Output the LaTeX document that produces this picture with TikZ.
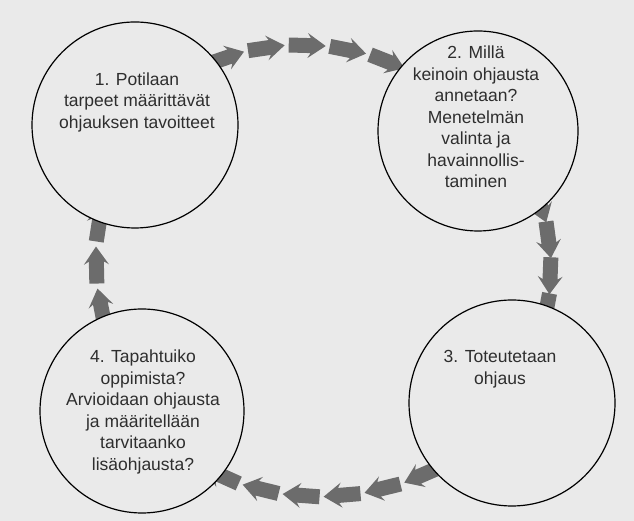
\documentclass[tikz,border=0pt]{standalone}
\usepackage{fontspec}
\setmainfont{Liberation Sans}
\usetikzlibrary{decorations.markings, backgrounds}

\definecolor{pagegray}{RGB}{234,234,234}
\definecolor{arrowgray}{RGB}{108,108,108}
\newcommand{\blockarrow}{\fill[arrowgray] (-19,-7.5) -- (3,-7.5) -- (0,-12.5) -- (18,0) -- (0,12.5) -- (3,7.5) -- (-19,7.5) -- cycle;}

\begin{document}
\begin{tikzpicture}[x=1pt, y=1pt,
  phase/.style={circle, draw=black, line width=1.2pt, fill=pagegray,
    minimum size=206pt, inner sep=0pt},
  phasetext/.style={align=center, text=black!82, font=\fontsize{17.5}{21.5}\selectfont},
  chain/.style 2 args={decoration={markings,
    mark=between positions #1 and 1 step #2 with {\blockarrow}},
    postaction={decorate}}
]
\useasboundingbox (0,0) rectangle (634,521);
\node[phase] (c1) at (135,396) {};
\node[phase, minimum size=200pt] (c2) at (478,390) {};
\node[phase] (c3) at (512,118) {};
\node[phase, minimum size=204pt] (c4) at (142,110) {};
\node[phasetext] (t1) at (137,419) {1. Potilaan\\tarpeet määrittävät\\ohjauksen tavoitteet};
\node[phasetext] (t2) at (476,404) {2. Millä\\keinoin ohjausta\\annetaan?\\Menetelmän\\valinta ja\\havainnollis-\\taminen};
\node[phasetext] (t3) at (500,152) {3. Toteutetaan\\ohjaus};
\node[phasetext] (t4) at (143,109) {4. Tapahtuiko\\oppimista?\\Arvioidaan ohjausta\\ja määritellään\\tarvitaanko\\lisäohjausta?};
% page and arrow chains behind the circles
\begin{scope}[on background layer]
\fill[pagegray] (0,0) rectangle (634,521);
\path[chain={34pt}{41pt}] (c1.center) to[out=55, in=125] (c2.center);
\path[chain={27pt}{36pt}] (c2.center) to[out=-30, in=60] (c3.center);
\path[chain={36pt}{41pt}] (c3.center) to[out=-125, in=-55] (c4.center);
\path[chain={29pt}{42pt}] (c4.center) to[out=120, in=-120] (c1.center);
\end{scope}
\end{tikzpicture}
\end{document}
